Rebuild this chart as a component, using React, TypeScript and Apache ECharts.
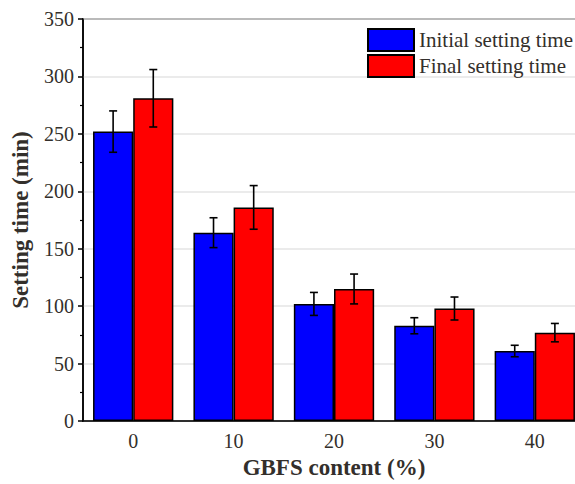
import React, { useEffect, useRef } from "react";
import * as echarts from "echarts";

const categories = ["0", "10", "20", "30", "40"];
const initialTime = [252, 164, 102, 83, 61];
const initialErr = [18, 13, 10, 7, 5];
const finalTime = [281, 186, 115, 98, 77];
const finalErr = [25, 19, 13, 10, 8];

const FONT = "'Liberation Serif', 'Times New Roman', serif";
const TEXT = "#332f2b";

export default function App() {
  const ref = useRef<HTMLDivElement>(null);
  useEffect(() => {
    document.body.style.margin = "0";
    document.body.style.overflow = "hidden";
    document.documentElement.style.overflow = "hidden";
    const chart = echarts.init(ref.current!, null, { renderer: "svg" });

    const errSeries = (vals: number[], errs: number[], sign: number) => ({
      type: "custom",
      z: 10,
      silent: true,
      encode: { x: 0, y: [1, 2] },
      data: vals.map((v, i) => [i, v - errs[i], v + errs[i]]),
      renderItem: (params: any, api: any) => {
        const xi = api.value(0);
        const lo = api.coord([xi, api.value(1)]);
        const hi = api.coord([xi, api.value(2)]);
        const band = api.size([1, 0])[0];
        const x = lo[0] + sign * band * 0.2;
        const hw = 4;
        const style = { stroke: "#000", lineWidth: 1.6 };
        return {
          type: "group",
          children: [
            { type: "line", shape: { x1: x, y1: lo[1], x2: x, y2: hi[1] }, style },
            { type: "line", shape: { x1: x - hw, y1: lo[1], x2: x + hw, y2: lo[1] }, style },
            { type: "line", shape: { x1: x - hw, y1: hi[1], x2: x + hw, y2: hi[1] }, style },
          ],
        };
      },
    });

    chart.setOption({
      animation: false,
      textStyle: { fontFamily: FONT },
      grid: {
        left: 83,
        top: 19,
        right: 0,
        bottom: 61,
        show: true,
        borderColor: "#000",
        borderWidth: 1.5,
      },
      legend: {
        orient: "vertical",
        left: 362,
        top: 23,
        itemWidth: 46,
        itemHeight: 22,
        itemGap: 2,
        icon: "rect",
        textStyle: { fontFamily: FONT, fontSize: 21, color: TEXT },
        data: ["Initial setting time", "Final setting time"],
      },
      xAxis: {
        type: "category",
        data: categories,
        name: "GBFS content (%)",
        nameLocation: "middle",
        nameGap: 33,
        nameTextStyle: { fontFamily: FONT, fontSize: 23, fontWeight: "bold", color: TEXT },
        axisLine: { lineStyle: { color: "#000", width: 1.5 } },
        axisTick: { alignWithLabel: true, length: 5, lineStyle: { color: "#000", width: 1.5 } },
        axisLabel: { fontFamily: FONT, fontSize: 20, color: TEXT, margin: 10 },
      },
      yAxis: {
        type: "value",
        min: 0,
        max: 350,
        interval: 50,
        name: "Setting time (min)",
        nameLocation: "middle",
        nameGap: 51,
        nameTextStyle: { fontFamily: FONT, fontSize: 23, fontWeight: "bold", color: TEXT },
        axisLine: { show: true, lineStyle: { color: "#000", width: 1.5 } },
        axisTick: { show: true, length: 5, lineStyle: { color: "#000", width: 1.5 } },
        minorTick: { show: true, splitNumber: 2, length: 3, lineStyle: { color: "#000", width: 1.2 } },
        splitLine: { show: true, lineStyle: { color: "#e4e4e4", width: 1.5 } },
        axisLabel: { fontFamily: FONT, fontSize: 20, color: TEXT, margin: 9 },
      },
      series: [
        {
          name: "Initial setting time",
          type: "bar",
          data: initialTime,
          barGap: "0%",
          barCategoryGap: "20%",
          itemStyle: { color: "#0000ff", borderColor: "#000", borderWidth: 1.5 },
        },
        {
          name: "Final setting time",
          type: "bar",
          data: finalTime,
          barGap: "0%",
          barCategoryGap: "20%",
          itemStyle: { color: "#ff0000", borderColor: "#000", borderWidth: 1.5 },
        },
        errSeries(initialTime, initialErr, -1),
        errSeries(finalTime, finalErr, 1),
      ],
    });
    return () => chart.dispose();
  }, []);
  return <div ref={ref} style={{ width: 585, height: 484 }} />;
}
